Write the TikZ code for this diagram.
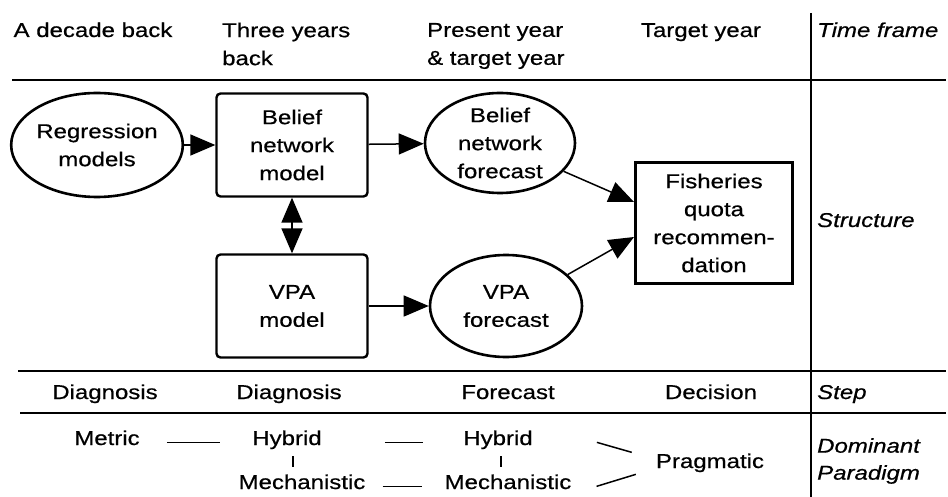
\documentclass[tikz,border=0pt]{standalone}
\usepackage{fontspec}
\setmainfont{Liberation Sans}[FakeStretch=1.2,FakeBold=0.6]
\usetikzlibrary{shapes.geometric}
\usetikzlibrary{arrows.meta}

\begin{document}
\begin{tikzpicture}[x=1pt,y=-1pt,
  font=\fontsize{20}{28}\selectfont,
  lbl/.style={inner sep=0pt,align=center},
  rowtag/.style={inner sep=0pt,align=left,font=\fontsize{20}{27}\selectfont\itshape},
  ovalnode/.style={ellipse,draw,line width=2.6pt,inner sep=0pt,align=center},
  modelbox/.style={rectangle,draw,line width=2.4pt,rounded corners=4pt,inner sep=0pt,
    align=center,minimum width=151pt,minimum height=103pt},
  flow/.style={line width=1.5pt,-{Triangle[length=25pt,width=21pt]}},
  twoway/.style={line width=1.5pt,{Triangle[length=25pt,width=21pt]}-{Triangle[length=25pt,width=21pt]}},
  divider/.style={line width=1.8pt},
  link/.style={line width=1.5pt}]
  \useasboundingbox (0,0) rectangle (948,497);

  \draw[divider] (12,80) -- (946,80);
  \draw[divider] (18,371) -- (946,371);
  \draw[divider] (20,413) -- (946,413);
  \draw[divider] (811,13) -- (811,497);

  \node[lbl,anchor=base] (hd1) at (93,37) {A decade back};
  \node[lbl,anchor=west,align=left] (hd2) at (222,44) {Three years\\back};
  \node[lbl,anchor=west,align=left] (hd3) at (427,46) {Present year\\\& target year};
  \node[lbl,anchor=base] (hd4) at (701,37) {Target year};

  \node[ovalnode,minimum width=152pt,minimum height=104pt] (reg) at (97,145) {Regression\\models};
  \node[modelbox] (bnm) at (292,145) {Belief\\network\\model};
  \node[modelbox] (vpam) at (292,306) {VPA\\model};
  \node[ovalnode,minimum width=150pt,minimum height=100pt] (bnf) at (500,143) {Belief\\network\\forecast};
  \node[ovalnode,minimum width=152pt,minimum height=102pt] (vpaf) at (506,306) {VPA\\forecast};
  \node[draw,line width=3pt,inner sep=0pt,align=center,minimum width=157pt,minimum height=120pt] (fqr) at (714,223)
    {Fisheries\\quota\\recommen-\\dation};

  \draw[flow] (reg) -- (bnm);
  \draw[flow] (bnm) -- (bnf);
  \draw[flow] (vpam) -- (vpaf);
  \draw[twoway] (bnm) -- (vpam);
  \draw[flow] (bnf.-24) -- ([yshift=21pt]fqr.west);
  \draw[flow] (vpaf.27) -- ([yshift=-14pt]fqr.west);

  \node[lbl,anchor=base] (st1) at (105,399) {Diagnosis};
  \node[lbl,anchor=base] (st2) at (289,399) {Diagnosis};
  \node[lbl,anchor=base] (st3) at (508,399) {Forecast};
  \node[lbl,anchor=base] (st4) at (711,399) {Decision};

  \node[lbl,anchor=base] (metric) at (107,445) {Metric};
  \node[lbl,anchor=base] (hyb1) at (287,445) {Hybrid};
  \node[lbl,anchor=base] (hyb2) at (498,445) {Hybrid};
  \node[lbl,anchor=base] (mech1) at (302,489) {Mechanistic};
  \node[lbl,anchor=base] (mech2) at (508,489) {Mechanistic};
  \node[lbl,anchor=base] (prag) at (710,468) {Pragmatic};

  \draw[link,shorten <=27pt,shorten >=32pt] (metric.mid east) -- (hyb1.mid west);
  \draw[link,shorten <=63pt,shorten >=40pt] (hyb1.mid east) -- (hyb2.mid west);
  \draw[link,shorten <=17pt,shorten >=22pt] (mech1.mid east) -- (mech2.mid west);
  \draw[link,shorten <=7pt,shorten >=7pt] ([xshift=6pt]hyb1.south) -- ([xshift=-9pt]mech1.north);
  \draw[link,shorten <=7pt,shorten >=7pt] ([xshift=3pt]hyb2.south) -- ([xshift=-7pt]mech2.north);
  \draw[link] ([xshift=64pt]hyb2.mid east) -- ([xshift=-24pt,yshift=13pt]prag.mid west);
  \draw[link] ([xshift=25pt]mech2.mid east) -- ([xshift=-20pt,yshift=-9pt]prag.mid west);

  \node[rowtag,anchor=base west] (tf) at (817,37) {Time frame};
  \node[rowtag,anchor=base west] (sr) at (817,227) {Structure};
  \node[rowtag,anchor=base west] (sp) at (817,399) {Step};
  \node[rowtag,anchor=west] (dp) at (817,461) {Dominant\\Paradigm};
\end{tikzpicture}
\end{document}
